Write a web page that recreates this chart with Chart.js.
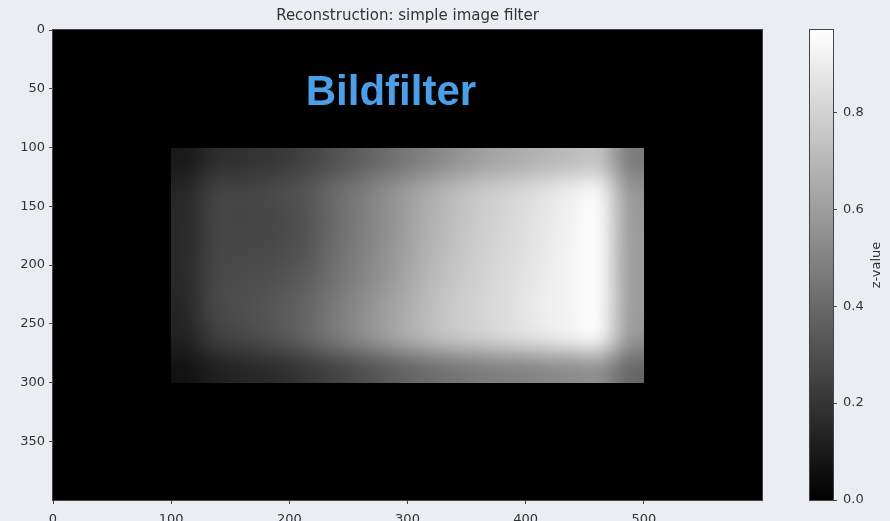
<!DOCTYPE html>
<html>
<head>
<meta charset="utf-8">
<title>Reconstruction: simple image filter</title>
<script src="https://cdn.jsdelivr.net/npm/chart.js@4.4.0/dist/chart.umd.min.js"></script>
<style>
  html, body { margin: 0; padding: 0; background: #eaedf2; overflow: hidden; }
  #myChart { display: block; }
</style>
</head>
<body>
<canvas id="myChart" width="890" height="521"></canvas>
<script>
// image extent and ticks
const imgWidth = 600;
const imgHeight = 400;
const xTicks = [0, 100, 200, 300, 400, 500];
const yTicks = [0, 50, 100, 150, 200, 250, 300, 350];
const cbTicks = [0, 0.2, 0.4, 0.6, 0.8];
const zMax = 0.97;

// the bright patch (everything else is 0)
const patchX = [100, 500];
const patchY = [100, 300];
// z values of the patch, rows top -> bottom, 25 px cells
const zGrid = [
  [0.10,0.17,0.19,0.21,0.25,0.31,0.37,0.43,0.49,0.55,0.61,0.65,0.69,0.72,0.74,0.48],
  [0.15,0.25,0.26,0.28,0.32,0.40,0.47,0.55,0.63,0.70,0.76,0.80,0.85,0.90,0.93,0.58],
  [0.16,0.26,0.26,0.27,0.31,0.40,0.48,0.56,0.65,0.72,0.78,0.82,0.87,0.92,0.95,0.60],
  [0.16,0.26,0.27,0.28,0.32,0.41,0.49,0.57,0.66,0.73,0.79,0.83,0.88,0.93,0.95,0.61],
  [0.16,0.27,0.29,0.31,0.35,0.43,0.51,0.59,0.68,0.75,0.80,0.84,0.89,0.93,0.95,0.61],
  [0.15,0.27,0.30,0.33,0.38,0.46,0.54,0.62,0.70,0.77,0.81,0.85,0.90,0.93,0.95,0.61],
  [0.13,0.23,0.27,0.31,0.37,0.45,0.53,0.61,0.68,0.74,0.78,0.82,0.86,0.90,0.92,0.58],
  [0.07,0.12,0.15,0.17,0.21,0.26,0.31,0.36,0.41,0.45,0.48,0.50,0.52,0.54,0.55,0.40]
];

const labelText = "Bildfilter";
const labelPos = [286, 52];

function gray(z) {
  var g = Math.round(255 * Math.max(0, Math.min(1, z / zMax)));
  return [g, g, g];
}

function noPad(s) {
  s.paddingTop = 0; s.paddingBottom = 0; s.paddingLeft = 0; s.paddingRight = 0;
}

const heatmapPlugin = {
  id: "heatmap",
  beforeDatasetsDraw(chart) {
    const ctx = chart.ctx;
    const xs = chart.scales.x, ys = chart.scales.y;
    const x0 = xs.getPixelForValue(0), x1 = xs.getPixelForValue(imgWidth);
    const y0 = ys.getPixelForValue(0), y1 = ys.getPixelForValue(imgHeight);
    ctx.save();
    var c0 = gray(0);
    ctx.fillStyle = "rgb(" + c0.join(",") + ")";
    ctx.fillRect(x0, y0, x1 - x0, y1 - y0);

    // small image of the patch, scaled up with smoothing
    var rows = zGrid.length, cols = zGrid[0].length;
    var off = document.createElement("canvas");
    off.width = cols; off.height = rows;
    var octx = off.getContext("2d");
    var img = octx.createImageData(cols, rows);
    for (let r = 0; r < rows; r++) {
      for (let c = 0; c < cols; c++) {
        var g = gray(zGrid[r][c]);
        var k = (r * cols + c) * 4;
        img.data[k] = g[0]; img.data[k + 1] = g[1]; img.data[k + 2] = g[2]; img.data[k + 3] = 255;
      }
    }
    octx.putImageData(img, 0, 0);
    var px0 = xs.getPixelForValue(patchX[0]), px1 = xs.getPixelForValue(patchX[1]);
    var py0 = ys.getPixelForValue(patchY[0]), py1 = ys.getPixelForValue(patchY[1]);
    ctx.imageSmoothingEnabled = true;
    ctx.imageSmoothingQuality = "high";
    ctx.drawImage(off, px0, py0, px1 - px0, py1 - py0);

    // annotation
    ctx.fillStyle = "#4a9fe8";
    ctx.font = "bold 42px 'Liberation Sans', Arial, sans-serif";
    ctx.textAlign = "center";
    ctx.textBaseline = "middle";
    ctx.fillText(labelText, xs.getPixelForValue(labelPos[0]), ys.getPixelForValue(labelPos[1]) + 2);
    ctx.restore();
  },
  afterDraw(chart) {
    const ctx = chart.ctx;
    const a = chart.chartArea;
    const cb = chart.scales.cb;
    ctx.save();
    // frame of the image
    ctx.strokeStyle = "#444";
    ctx.lineWidth = 1;
    ctx.strokeRect(Math.round(a.left) - 0.5, Math.round(a.top) - 0.5, Math.round(a.right - a.left) + 1, Math.round(a.bottom - a.top) + 1);

    // colorbar
    var bx0 = 810, bx1 = 833;
    var top = cb.getPixelForValue(zMax), bot = cb.getPixelForValue(0);
    var grad = ctx.createLinearGradient(0, bot, 0, top);
    grad.addColorStop(0, "rgb(0,0,0)");
    grad.addColorStop(1, "rgb(255,255,255)");
    ctx.fillStyle = grad;
    ctx.fillRect(bx0, top, bx1 - bx0, bot - top);
    ctx.strokeStyle = "#444";
    ctx.strokeRect(bx0 - 0.5, Math.round(top) - 0.5, bx1 - bx0 + 1, Math.round(bot - top) + 1);
    ctx.beginPath();
    for (let t of cbTicks) {
      var py = Math.round(cb.getPixelForValue(t)) + 0.5;
      ctx.moveTo(bx1, py);
      ctx.lineTo(bx1 + 4, py);
    }
    ctx.stroke();

    // colorbar label
    ctx.fillStyle = "#333";
    ctx.font = "13px 'DejaVu Sans', sans-serif";
    ctx.textAlign = "center";
    ctx.textBaseline = "middle";
    ctx.translate(877, (top + bot) / 2);
    ctx.rotate(-Math.PI / 2);
    ctx.fillText("z-value", 0, 0);
    ctx.restore();
  }
};

const tickFont = { family: "DejaVu Sans", size: 13 };

new Chart("myChart", {
  type: "scatter",
  data: { datasets: [{ data: [] }] },
  plugins: [heatmapPlugin],
  options: {
    responsive: false,
    animation: false,
    devicePixelRatio: 1,
    layout: { padding: 0 },
    plugins: {
      legend: { display: false },
      tooltip: { enabled: false },
      title: {
        display: true,
        fullSize: false,
        text: "Reconstruction: simple image filter",
        color: "#333",
        font: { family: "DejaVu Sans", size: 15, weight: "normal" },
        padding: { top: 7, bottom: 5 }
      }
    },
    scales: {
      x: {
        type: "linear",
        position: "bottom",
        min: 0,
        max: imgWidth,
        afterBuildTicks: function (s) { s.ticks = xTicks.map(v => ({ value: v })); },
        afterFit: function (s) { s.height = 21; noPad(s); },
        grid: { drawOnChartArea: false, tickLength: 4, color: "#444" },
        border: { color: "#444" },
        ticks: { font: tickFont, color: "#333", padding: 8, maxRotation: 0 }
      },
      y: {
        type: "linear",
        position: "left",
        reverse: true,
        min: 0,
        max: imgHeight,
        afterBuildTicks: function (s) { s.ticks = yTicks.map(v => ({ value: v })); },
        afterFit: function (s) { s.width = 53; noPad(s); },
        grid: { drawOnChartArea: false, tickLength: 4, color: "#444" },
        border: { color: "#444" },
        ticks: { font: tickFont, color: "#333", padding: 4 }
      },
      cb: {
        type: "linear",
        position: "right",
        min: 0,
        max: zMax,
        afterBuildTicks: function (s) { s.ticks = cbTicks.map(v => ({ value: v })); },
        afterFit: function (s) { s.width = 128; noPad(s); },
        grid: { display: false, drawTicks: false },
        border: { display: false },
        ticks: {
          font: tickFont,
          color: "#333",
          padding: 81,
          callback: function (v) { return v.toFixed(1); }
        }
      }
    }
  }
});
</script>
</body>
</html>
